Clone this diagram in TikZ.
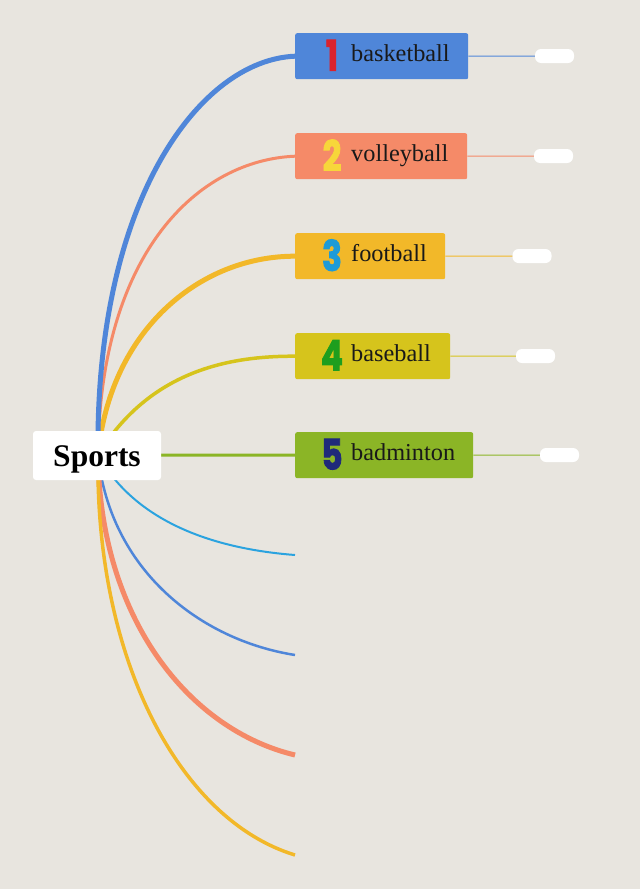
\documentclass[tikz,border=0pt]{standalone}
\usepackage{fontspec}
\setmainfont{Liberation Serif}
\newfontfamily\numfont{Poppins}[BoldFeatures={FakeBold=2.5}]
\definecolor{bg}{HTML}{E8E5DF}
\definecolor{cblue}{HTML}{4F86D9}
\definecolor{csalmon}{HTML}{F58A68}
\definecolor{corange}{HTML}{F2B829}
\definecolor{cyellow}{HTML}{D6C41C}
\definecolor{cgreen}{HTML}{8BB526}
\definecolor{ccyan}{HTML}{2BA3DF}
\definecolor{nred}{HTML}{D9232E}
\definecolor{nyellow}{HTML}{F7D63A}
\definecolor{nblue}{HTML}{1E9BD7}
\definecolor{ngreen}{HTML}{1E9E1E}
\definecolor{nnavy}{HTML}{1F2A7A}
\tikzset{
  topic/.style={anchor=north west, minimum height=46pt, rounded corners=2pt, inner sep=0pt, text=black},
  pill/.style={fill=white, rounded corners=6pt, minimum width=39pt, minimum height=14pt, inner sep=0pt},
  num/.style={font=\numfont\bfseries\fontsize{42}{42}\selectfont, inner sep=0pt, xscale=0.78},
  lbl/.style={font=\fontsize{24.3}{24.3}\selectfont, inner sep=0pt, anchor=base west, text=black!90},
}
\begin{document}
\begin{tikzpicture}[x=1pt,y=-1pt]
\fill[bg] (0,0) rectangle (640,889);
\useasboundingbox (0,0) rectangle (640,889);
% topic nodes
\node[topic, fill=cblue, minimum width=173pt] (t1) at (295,33) {};
\node[topic, fill=csalmon, minimum width=172pt] (t2) at (295,133) {};
\node[topic, fill=corange, minimum width=150pt] (t3) at (295,233) {};
\node[topic, fill=cyellow, minimum width=155pt] (t4) at (295,333) {};
\node[topic, fill=cgreen, minimum width=178pt] (t5) at (295,432) {};
\node[num, text=nred] (n1) at ([xshift=37pt,yshift=1pt]t1.west) {1};
\node[num, text=nyellow] (n2) at ([xshift=37pt,yshift=1pt]t2.west) {2};
\node[num, text=nblue] (n3) at ([xshift=37pt,yshift=1pt]t3.west) {3};
\node[num, text=ngreen] (n4) at ([xshift=37pt,yshift=1pt]t4.west) {4};
\node[num, text=nnavy] (n5) at ([xshift=37pt,yshift=1pt]t5.west) {5};
\node[lbl] (l1) at ([xshift=56pt,yshift=-5pt]t1.west) {basketball};
\node[lbl] (l2) at ([xshift=56pt,yshift=-5pt]t2.west) {volleyball};
\node[lbl] (l3) at ([xshift=56pt,yshift=-5pt]t3.west) {football};
\node[lbl] (l4) at ([xshift=56pt,yshift=-5pt]t4.west) {baseball};
\node[lbl] (l5) at ([xshift=56pt,yshift=-5pt]t5.west) {badminton};
% pills
\node[pill] (p1) at (554.5,56) {};
\node[pill] (p2) at (553.5,156) {};
\node[pill] (p3) at (532,256) {};
\node[pill] (p4) at (535.5,356) {};
\node[pill] (p5) at (559.5,455) {};
\draw[cblue, line width=1pt] (t1.east) -- (p1.west);
\draw[csalmon, line width=1pt] (t2.east) -- (p2.west);
\draw[corange, line width=1pt] (t3.east) -- (p3.west);
\draw[cyellow, line width=1pt] (t4.east) -- (p4.west);
\draw[cgreen, line width=1pt] (t5.east) -- (p5.west);
% free ends
\coordinate (e1) at (295,555);
\coordinate (e2) at (295,655);
\coordinate (e3) at (295,755);
\coordinate (e4) at (295,855);
\coordinate (s) at (98,455);
% curves
\draw[cyellow, line width=3.5pt] (s) .. controls (150,370) and (230,356) .. (t4.west);
\draw[corange, line width=5pt] (s) .. controls (110,330) and (200,256) .. (t3.west);
\draw[csalmon, line width=3pt] (s) .. controls (100,250) and (200,160) .. (t2.west);
\draw[cblue, line width=5pt] (s) .. controls (95,200) and (200,60) .. (t1.west);
\draw[ccyan, line width=2pt] (s) .. controls (140,530) and (230,550) .. (e1);
\draw[cblue, line width=2.5pt] (s) .. controls (110,570) and (200,640) .. (e2);
\draw[csalmon, line width=5pt] (s) .. controls (100,620) and (190,730) .. (e3);
\draw[corange, line width=3.5pt] (s) .. controls (95,660) and (180,820) .. (e4);
\draw[cgreen, line width=3pt] (s) -- (t5.west);
% central node
\node[fill=white, rounded corners=3pt, minimum width=128pt, minimum height=49pt, inner sep=0pt] (sports) at (97,455.5) {};
\node[font=\bfseries\fontsize{31.5}{31.5}\selectfont, anchor=base, inner sep=0pt] (sportslbl) at ([yshift=-10.5pt]sports.center) {Sports};
\end{tikzpicture}
\end{document}
